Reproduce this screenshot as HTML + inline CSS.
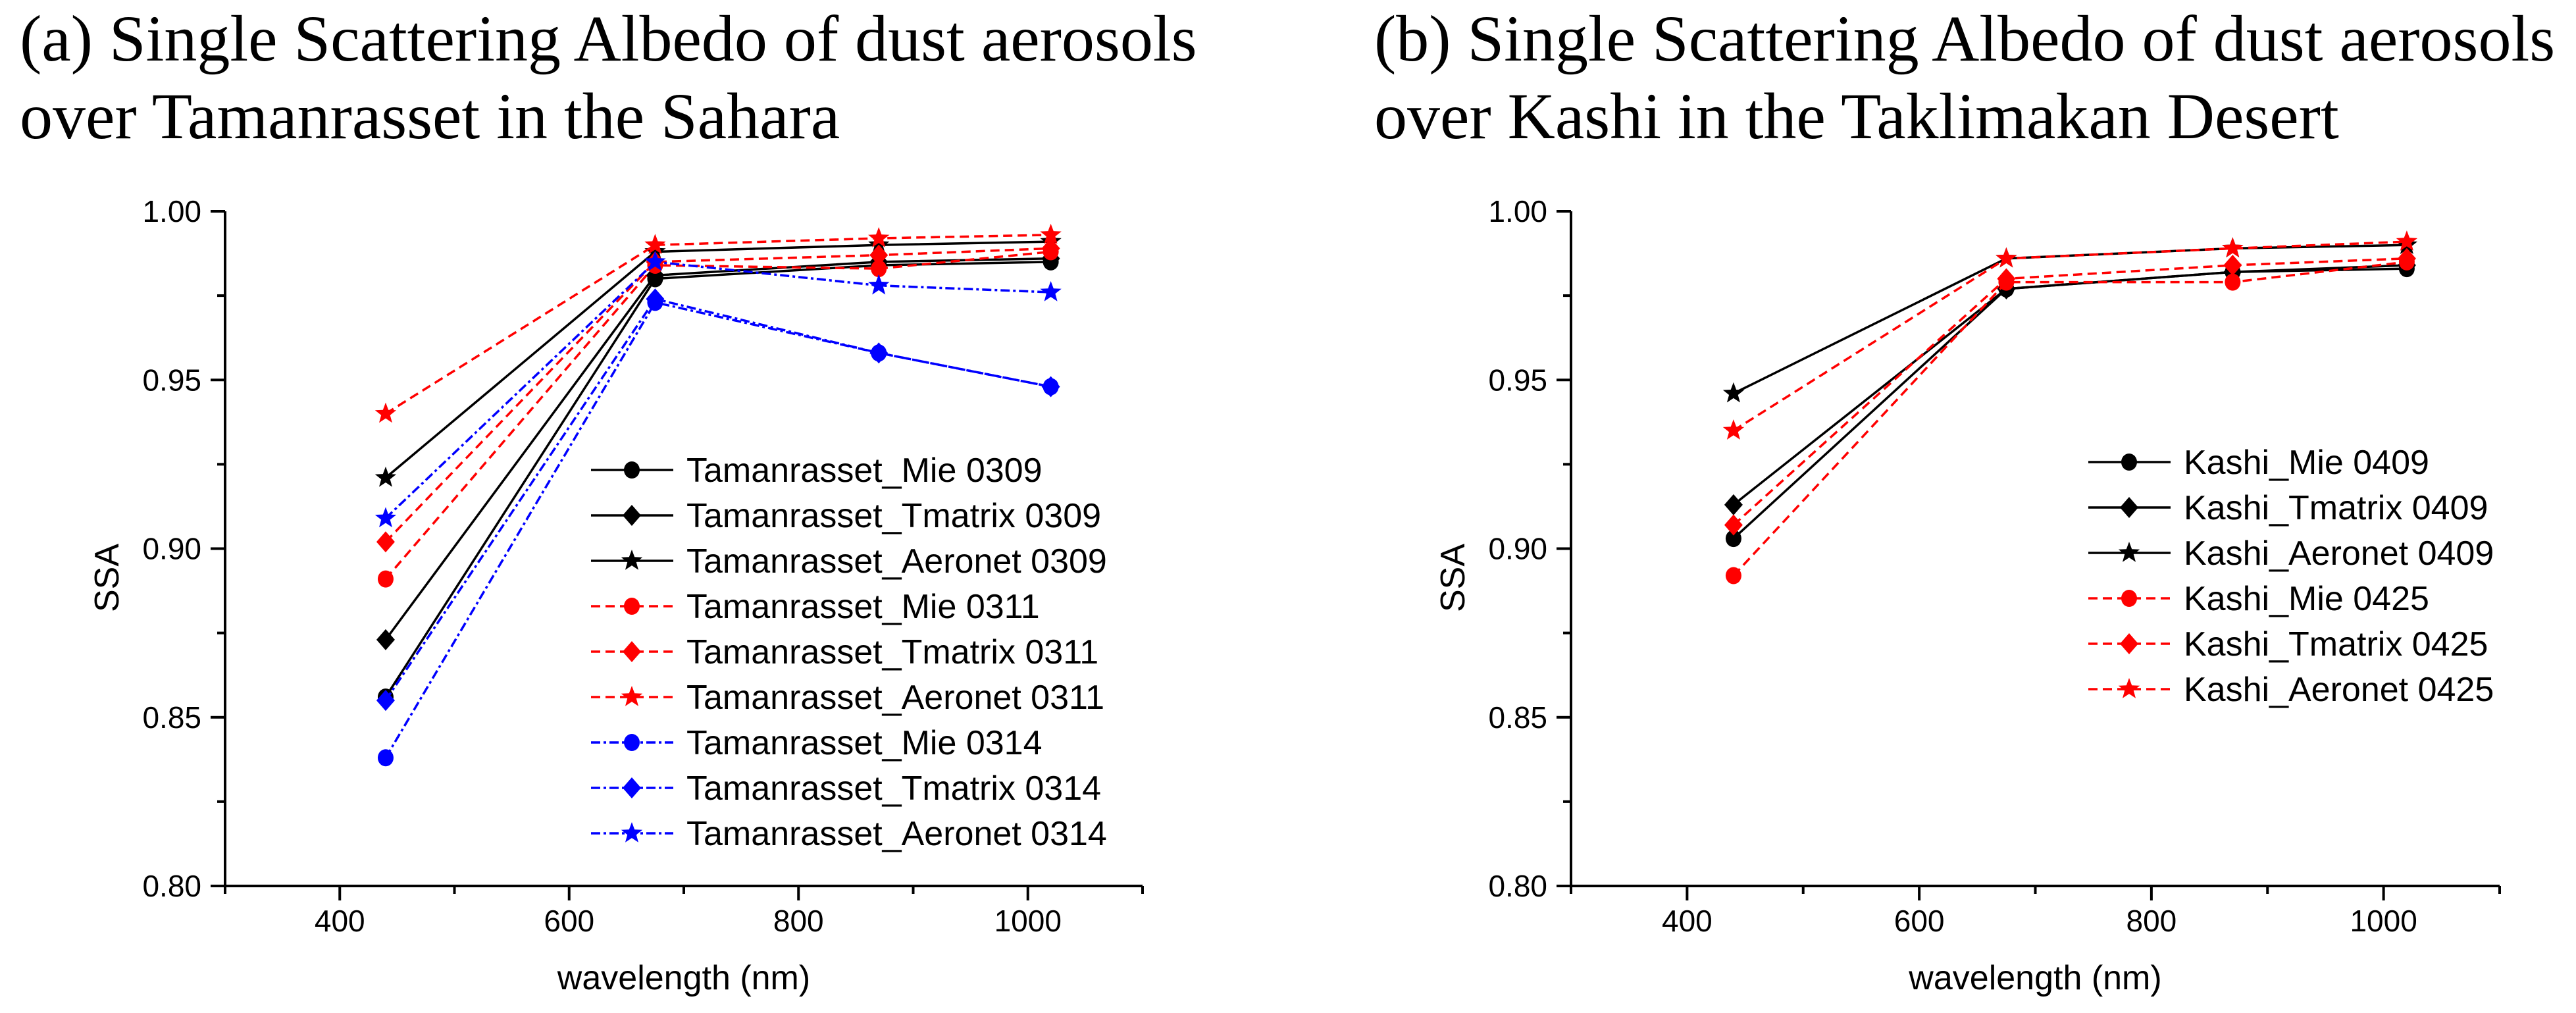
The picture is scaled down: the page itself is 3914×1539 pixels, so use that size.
<!DOCTYPE html>
<html><head><meta charset="utf-8">
<style>
html,body{margin:0;padding:0;background:#fff;}
svg{display:block;}
.t{font-family:"Liberation Serif",serif;font-size:100px;fill:#000;}
.s{font-family:"Liberation Sans",sans-serif;fill:#000;}
</style></head>
<body>
<svg id="chart" width="3914" height="1539" viewBox="0 0 3914 1539" xmlns="http://www.w3.org/2000/svg">
<text class="t" x="30" y="92">(a) Single Scattering Albedo of dust aerosols</text>
<text class="t" x="30" y="210">over Tamanrasset in the Sahara</text>
<text class="t" x="2088" y="92">(b) Single Scattering Albedo of dust aerosols</text>
<text class="t" x="2088" y="210">over Kashi in the Taklimakan Desert</text>
</svg>
<script>
const wavelengths = [440, 675, 870, 1020];
const xTicks = [400, 600, 800, 1000];
const xMinor = [300, 500, 700, 900, 1100];
const yTicks = [0.80, 0.85, 0.90, 0.95, 1.00];
const yTickLabels = ["0.80", "0.85", "0.90", "0.95", "1.00"];
const yMinor = [0.825, 0.875, 0.925, 0.975];

const tamMie0309 = [0.856, 0.980, 0.984, 0.985];
const tamTm0309 = [0.873, 0.981, 0.985, 0.986];
const tamAer0309 = [0.921, 0.988, 0.990, 0.991];
const tamMie0311 = [0.891, 0.984, 0.983, 0.988];
const tamTm0311 = [0.902, 0.985, 0.987, 0.989];
const tamAer0311 = [0.940, 0.990, 0.992, 0.993];
const tamMie0314 = [0.838, 0.973, 0.958, 0.948];
const tamTm0314 = [0.855, 0.974, 0.958, 0.948];
const tamAer0314 = [0.909, 0.985, 0.978, 0.976];
const tamLabels = ["Tamanrasset_Mie 0309","Tamanrasset_Tmatrix 0309","Tamanrasset_Aeronet 0309","Tamanrasset_Mie 0311","Tamanrasset_Tmatrix 0311","Tamanrasset_Aeronet 0311","Tamanrasset_Mie 0314","Tamanrasset_Tmatrix 0314","Tamanrasset_Aeronet 0314"];

const kasMie0409 = [0.903, 0.977, 0.982, 0.983];
const kasTm0409 = [0.913, 0.977, 0.982, 0.984];
const kasAer0409 = [0.946, 0.986, 0.989, 0.990];
const kasMie0425 = [0.892, 0.979, 0.979, 0.985];
const kasTm0425 = [0.907, 0.980, 0.984, 0.986];
const kasAer0425 = [0.935, 0.986, 0.989, 0.991];
const kasLabels = ["Kashi_Mie 0409","Kashi_Tmatrix 0409","Kashi_Aeronet 0409","Kashi_Mie 0425","Kashi_Tmatrix 0425","Kashi_Aeronet 0425"];

const NS = "http://www.w3.org/2000/svg";
const svg = document.getElementById('chart');
const STY = {
  black: {c:'#000', d:''},
  red: {c:'#ff0000', d:'14,8'},
  blue: {c:'#0000ff', d:'14,5,4,5'}
};
function mk(tag, attrs, parent){
  const e = document.createElementNS(NS, tag);
  for (const k in attrs) e.setAttribute(k, attrs[k]);
  (parent||svg).appendChild(e);
  return e;
}
function starPts(cx, cy, R){
  const r = R*0.42; let p = [];
  for (let i=0;i<10;i++){
    const a = -Math.PI/2 + i*Math.PI/5;
    const rr = i%2===0 ? R : r;
    p.push((cx+rr*Math.cos(a)).toFixed(1)+','+(cy+rr*Math.sin(a)).toFixed(1));
  }
  return p.join(' ');
}
function marker(g, shape, cx, cy, color, name){
  let e;
  if (shape==='circle') e = mk('ellipse',{cx:cx,cy:cy,rx:12,ry:13,fill:color},g);
  else if (shape==='diamond') e = mk('polygon',{points:`${cx},${cy-16} ${cx+14},${cy} ${cx},${cy+16} ${cx-14},${cy}`,fill:color},g);
  else e = mk('polygon',{points:starPts(cx,cy,17),fill:color},g);
  
  
}

function panel(p){
  const X0 = p.x0, X1 = p.x1, Y0 = 1346, Y1 = 321;
  const xs = v => X0 + (v-300)/(1100-300)*(X1-X0);
  const ys = v => Y0 - (v-0.80)/(0.20)*(Y0-Y1);
  const g = mk('g',{});
  
  
  const ax = mk('path',{d:`M${X0},${Y1} L${X0},${Y0} L${X1},${Y0}`,stroke:'#000','stroke-width':4,fill:'none'},g);
  
  
  xTicks.forEach(t=>{
    mk('line',{x1:xs(t),x2:xs(t),y1:Y0,y2:Y0+22,stroke:'#000','stroke-width':4},g);
    const tl = mk('text',{x:xs(t),y:1415,'text-anchor':'middle','font-size':46,class:'s'},g);
    tl.textContent = t;
    
    
  });
  xMinor.forEach(t=>mk('line',{x1:xs(t),x2:xs(t),y1:Y0,y2:Y0+12,stroke:'#000','stroke-width':4},g));
  yTicks.forEach((t,i)=>{
    mk('line',{x1:X0-22,x2:X0,y1:ys(t),y2:ys(t),stroke:'#000','stroke-width':4},g);
    const tl = mk('text',{x:X0-36,y:ys(t)+16,'text-anchor':'end','font-size':46,class:'s'},g);
    tl.textContent = yTickLabels[i];
    
    
  });
  yMinor.forEach(t=>mk('line',{x1:X0-12,x2:X0,y1:ys(t),y2:ys(t),stroke:'#000','stroke-width':4},g));
  const xt = mk('text',{x:(X0+X1)/2,y:1503,'text-anchor':'middle','font-size':52,class:'s'},g);
  xt.textContent = 'wavelength (nm)';
  
  
  const yt = mk('text',{x:0,y:0,'text-anchor':'middle','font-size':52,class:'s',transform:`translate(${X0-162},878) rotate(-90)`},g);
  yt.textContent = 'SSA';
  
  
  p.series.forEach((s,si)=>{
    const st = STY[s.color];
    const pts = wavelengths.map((w,i)=>xs(w)+','+ys(s.data[i])).join(' ');
    const sg = mk('g',{},g);
    
    
    mk('polyline',{points:pts,fill:'none',stroke:st.c,'stroke-width':3.5,'stroke-dasharray':st.d},sg);
    wavelengths.forEach((w,i)=>marker(sg,s.shape,xs(w),ys(s.data[i]),st.c,'point-'+w));
    const ly = p.legY + si*69;
    const lg = mk('g',{},g);
    
    
    mk('line',{x1:p.legX,x2:p.legX+125,y1:ly,y2:ly,stroke:st.c,'stroke-width':3.5,'stroke-dasharray':st.d},lg);
    marker(lg,s.shape,p.legX+62,ly,st.c,'legend-marker');
    const tx = mk('text',{x:p.legX+145,y:ly+18,'font-size':52,class:'s'},lg);
    tx.textContent = p.labels[si];
  });
}

panel({id:'tamanrasset', x0:342, x1:1736, legX:898, legY:714, labels:tamLabels, series:[
  {data:tamMie0309,color:'black',shape:'circle'},
  {data:tamTm0309,color:'black',shape:'diamond'},
  {data:tamAer0309,color:'black',shape:'star'},
  {data:tamMie0311,color:'red',shape:'circle'},
  {data:tamTm0311,color:'red',shape:'diamond'},
  {data:tamAer0311,color:'red',shape:'star'},
  {data:tamMie0314,color:'blue',shape:'circle'},
  {data:tamTm0314,color:'blue',shape:'diamond'},
  {data:tamAer0314,color:'blue',shape:'star'}
]});
panel({id:'kashi', x0:2387, x1:3798, legX:3173, legY:702, labels:kasLabels, series:[
  {data:kasMie0409,color:'black',shape:'circle'},
  {data:kasTm0409,color:'black',shape:'diamond'},
  {data:kasAer0409,color:'black',shape:'star'},
  {data:kasMie0425,color:'red',shape:'circle'},
  {data:kasTm0425,color:'red',shape:'diamond'},
  {data:kasAer0425,color:'red',shape:'star'}
]});
</script>
</body></html>
